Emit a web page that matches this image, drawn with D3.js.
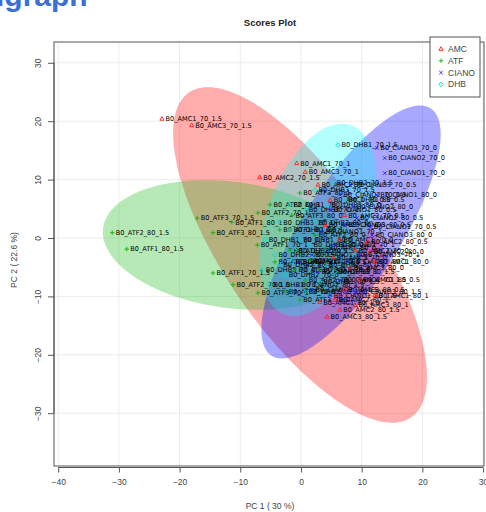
<!DOCTYPE html>
<html>
<head>
<meta charset="utf-8">
<script src="https://cdn.jsdelivr.net/npm/d3@7/dist/d3.min.js"></script>
<style>
  body { margin: 0; background: #fff; }
  svg { display: block; }
</style>
</head>
<body>
<svg id="chart" width="486" height="512"></svg>
<script>
// ---- data -------------------------------------------------------------
const groups = ["AMC", "ATF", "CIANO", "DHB"];

const amcNames = ["B0_AMC1_70_1.5","B0_AMC3_70_1.5","B0_AMC2_70_1.5","B0_AMC1_70_1","B0_AMC3_70_1","B0_AMC2_70_1",
  "B0_AMC1_70_0.5","B0_AMC2_70_0.5","B0_AMC3_70_0.5","B0_AMC1_70_0","B0_AMC2_70_0","B0_AMC3_70_0",
  "B0_AMC2_80_0.5","B0_AMC2_80_0","B0_AMC1_80_0","B0_AMC3_80_0","B0_AMC1_80_0.5","B0_AMC3_80_0.5",
  "B0_AMC1_80_1","B0_AMC2_80_1","B0_AMC3_80_1","B0_AMC1_80_1.5","B0_AMC2_80_1.5","B0_AMC3_80_1.5"];
const amcPC1 = [-22.9,-18.0,-6.8,-0.7,0.7,2.8, 4.8,7.2,4.0,6.4,8.9,5.3, 11.0,11.4,12.2,8.1,9.7,7.2, 12.2,5.6,8.9,3.1,6.4,4.3];
const amcPC2 = [20.4,19.3,10.4,12.8,11.3,9.1, 6.5,3.9,2.2,-0.3,-2.1,-3.4, -0.7,-2.4,-4.1,-5.1,-7.2,-8.9, -9.8,-10.6,-11.5,-11.0,-12.3,-13.5];

const atfNames = ["B0_ATF2_80_1.5","B0_ATF1_80_1.5","B0_ATF3_80_1.5","B0_ATF3_70_1.5","B0_ATF1_70_1.5","B0_ATF2_70_1.5",
  "B0_ATF3_70_1","B0_ATF2_70_1","B0_ATF1_70_1","B0_ATF3_80_1","B0_ATF1_80_1","B0_ATF2_80_1",
  "B0_ATF1_80_0.5","B0_ATF2_80_0.5","B0_ATF3_80_0.5","B0_ATF1_70_0.5","B0_ATF2_70_0.5","B0_ATF3_70_0.5",
  "B0_ATF1_70_0","B0_ATF2_70_0","B0_ATF3_70_0","B0_ATF1_80_0","B0_ATF2_80_0","B0_ATF3_80_0"];
const atfPC1 = [-31.1,-28.7,-14.5,-17.1,-14.5,-11.2, -7.1,-7.1,-7.2,-0.2,-11.4,-5.1, -3.5,-1.8,-4.3,-1.0,0.7,-2.6, 1.5,3.1,-0.2,4.0,2.3,-1.5];
const atfPC2 = [0.9,-1.9,0.9,3.4,-6.0,-8.0, -9.4,4.3,-1.2,7.7,2.7,5.7, 1.4,-2.1,-4.1,-5.5,-7.2,-9.2, -3.8,-5.5,-10.6,-1.7,0.5,3.9];

const cianoNames = ["B0_CIANO3_70_0","B0_CIANO2_70_0","B0_CIANO1_70_0","B0_CIANO1_80_0","B0_CIANO2_80_0","B0_CIANO2_80_0.5",
  "B0_CIANO1_70_0.5","B0_CIANO3_80_0","B0_CIANO2_70_0.5","B0_CIANO3_70_0.5","B0_CIANO1_80_0.5","B0_CIANO3_80_0.5",
  "B0_CIANO1_70_1","B0_CIANO2_70_1","B0_CIANO3_70_1","B0_CIANO1_80_1","B0_CIANO2_80_1","B0_CIANO3_80_1",
  "B0_CIANO1_70_1.5","B0_CIANO2_70_1.5","B0_CIANO3_70_1.5","B0_CIANO1_80_1.5","B0_CIANO2_80_1.5","B0_CIANO3_80_1.5"];
const cianoPC1 = [12.5,13.8,13.8,12.5,8.6,9.2, 11.4,11.7,6.4,8.1,4.8,7.2, 3.5,5.6,9.7,1.8,7.7,2.8, -0.2,6.4,1.8,4.8,-0.5,8.9];
const cianoPC2 = [15.4,13.7,11.1,7.4,5.3,3.4, 1.9,0.5,7.4,9.1,4.8,2.2, 1.0,-1.2,-2.9,-2.9,-4.1,-5.8, -4.1,-7.2,-8.9,-9.8,-8.0,-9.2];

const dhbNames = ["B0_DHB1_70_1.5","B0_DHB2_70_1.5","B0_DHB3_70_1.5","B0_DHB1_70_1","B0_DHB2_70_1","B0_DHB3_70_1",
  "B0_DHB1_70_0.5","B0_DHB2_70_0.5","B0_DHB3_70_0.5","B0_DHB1_70_0","B0_DHB2_70_0","B0_DHB3_70_0",
  "B0_DHB1_80_0","B0_DHB2_80_0","B0_DHB3_80_0","B0_DHB1_80_0.5","B0_DHB2_80_0.5","B0_DHB3_80_0.5",
  "B0_DHB1_80_1","B0_DHB2_80_1","B0_DHB3_80_1","B0_DHB1_80_1.5","B0_DHB2_80_1.5","B0_DHB3_80_1.5"];
const dhbPC1 = [6.1,5.3,2.3,-1.8,0.7,-3.5, -5.9,-4.3,-6.4,-5.1,-2.6,-1.5, -0.2,2.3,4.4,7.2,4.0,1.5, -1.8,-3.5,0.7,3.1,-1.0,5.6];
const dhbPC2 = [15.9,9.4,8.2,5.7,4.8,2.7, -0.3,-2.9,-5.5,-8.0,-6.3,-4.1, -0.3,2.7,5.7,6.5,-4.6,-1.2, 1.4,-4.6,-9.2,-7.5,-2.1,-5.8];

// 95% confidence ellipses per group (centre, semi-axes, rotation in degrees)
const ellipseCx    = [-0.16, -11.4, 8.24, 2.8];
const ellipseCy    = [-2.9, -1.2, 1.03, 3.08];
const ellipseMajor = [33.3, 21.4, 24.9, 17.1];
const ellipseMinor = [12.4, 10.8, 8.2, 8.5];
const ellipseAngle = [-57, -8, 58.5, 72];

const xTicks = [-40, -30, -20, -10, 0, 10, 20, 30];
const yTicks = [-30, -20, -10, 0, 10, 20, 30];
const pc1Variance = 30;
const pc2Variance = 22.6;

// ---- styling ------------------------------------------------------------
const lineColors = ["#FF2020", "#10B010", "#2020FF", "#00D8D8"];
const fillColors = ["#FF0000", "#22BB22", "#0000FF", "#00FFFF"];
const fillAlpha = [0.32, 0.33, 0.34, 0.3];

const svg = d3.select("#chart");
const plot = { left: 54, right: 484, top: 42, bottom: 466 };

const x = d3.scaleLinear().domain([-40.69, 30.15]).range([plot.left, plot.right]);
const y = d3.scaleLinear().domain([-39.04, 33.56]).range([plot.bottom, plot.top]);

// page heading (runs off the top of the page)
svg.append("text")
  .attr("x", -4).attr("y", 6)
  .attr("font-family", "Liberation Sans, Arial, sans-serif")
  .attr("font-size", 30).attr("font-weight", "bold")
  .attr("fill", "#3a6fd8")
  .text("igraph");

// title
svg.append("text")
  .attr("x", 270).attr("y", 26)
  .attr("text-anchor", "middle")
  .attr("font-family", "Liberation Sans, Arial, sans-serif")
  .attr("font-size", 9.5).attr("font-weight", "bold")
  .attr("fill", "#222")
  .text("Scores Plot");

svg.append("clipPath").attr("id", "plotClip")
  .append("rect")
  .attr("x", plot.left).attr("y", plot.top)
  .attr("width", plot.right - plot.left).attr("height", plot.bottom - plot.top);

// grid
const grid = svg.append("g").attr("stroke", "#ececec").attr("stroke-width", 1);
grid.selectAll(".gx").data(xTicks).join("line")
  .attr("x1", d => x(d)).attr("x2", d => x(d))
  .attr("y1", plot.top).attr("y2", plot.bottom);
grid.selectAll(".gy").data(yTicks).join("line")
  .attr("y1", d => y(d)).attr("y2", d => y(d))
  .attr("x1", plot.left).attr("x2", plot.right);

// ellipses
const ellipseLayer = svg.append("g").attr("clip-path", "url(#plotClip)");
const line = d3.line().x(p => x(p[0])).y(p => y(p[1])).curve(d3.curveLinearClosed);
groups.forEach((g, i) => {
  const th = ellipseAngle[i] * Math.PI / 180;
  const pts = d3.range(0, 180).map(k => {
    const t = k / 180 * 2 * Math.PI;
    const ex = ellipseMajor[i] * Math.cos(t), ey = ellipseMinor[i] * Math.sin(t);
    return [ellipseCx[i] + ex * Math.cos(th) - ey * Math.sin(th),
            ellipseCy[i] + ex * Math.sin(th) + ey * Math.cos(th)];
  });
  ellipseLayer.append("path")
    .attr("d", line(pts))
    .attr("fill", fillColors[i])
    .attr("fill-opacity", fillAlpha[i])
    .attr("stroke", "none");
});

// samples
const samples = [];
[[amcNames, amcPC1, amcPC2], [atfNames, atfPC1, atfPC2],
 [cianoNames, cianoPC1, cianoPC2], [dhbNames, dhbPC1, dhbPC2]].forEach((arr, gi) => {
  arr[0].forEach((n, k) => samples.push({ name: n, g: gi, pc1: arr[1][k], pc2: arr[2][k] }));
});

const symbolPath = (gi, s) => {
  if (gi === 0) return `M0,${-s}L${s * 0.9},${s * 0.6}L${-s * 0.9},${s * 0.6}Z`;
  if (gi === 1) return `M${-s},0H${s}M0,${-s}V${s}`;
  if (gi === 2) return `M${-s * 0.75},${-s * 0.75}L${s * 0.75},${s * 0.75}M${-s * 0.75},${s * 0.75}L${s * 0.75},${-s * 0.75}`;
  return `M0,${-s}L${s},0L0,${s}L${-s},0Z`;
};

const labelLayer = svg.append("g")
  .attr("font-family", "DejaVu Sans, sans-serif")
  .attr("font-size", 6.6)
  .attr("fill", "#000");
labelLayer.selectAll("text").data(samples).join("text")
  .attr("x", d => x(d.pc1) + 3.5)
  .attr("y", d => y(d.pc2))
  .attr("dy", "0.35em")
  .text(d => d.name);

svg.append("g").selectAll("path").data(samples).join("path")
  .attr("transform", d => `translate(${x(d.pc1)},${y(d.pc2)})`)
  .attr("d", d => symbolPath(d.g, 2.3))
  .attr("fill", "none")
  .attr("stroke", d => lineColors[d.g])
  .attr("stroke-width", 0.9);

// frame
svg.append("rect")
  .attr("x", plot.left).attr("y", plot.top)
  .attr("width", plot.right - plot.left).attr("height", plot.bottom - plot.top)
  .attr("fill", "none").attr("stroke", "#555").attr("stroke-width", 1);

// axes
const axisFont = "Liberation Sans, Arial, sans-serif";
const xAxis = svg.append("g")
  .attr("transform", `translate(0,${plot.bottom + 1.5})`)
  .call(d3.axisBottom(x).tickValues(xTicks).tickSize(5).tickPadding(6).tickFormat(d3.format("d")));
const yAxis = svg.append("g")
  .attr("transform", `translate(${plot.left},0)`)
  .call(d3.axisLeft(y).tickValues(yTicks).tickSize(6).tickPadding(4).tickFormat(d3.format("d")));
[xAxis, yAxis].forEach(a => {
  a.select(".domain").attr("stroke", "#555");
  a.selectAll(".tick line").attr("stroke", "#555");
  a.selectAll(".tick text").attr("font-family", axisFont).attr("font-size", 8.5).attr("fill", "#444");
});
xAxis.select(".domain").attr("d", `M${x(-40)},0H${x(30)}`);
yAxis.select(".domain").attr("d", `M0,${y(30)}V${y(-30)}`);
yAxis.selectAll(".tick text")
  .attr("transform", "rotate(-90)")
  .attr("x", 0).attr("y", -13)
  .attr("dy", "0")
  .attr("text-anchor", "middle");

svg.append("text")
  .attr("x", 270).attr("y", 509)
  .attr("text-anchor", "middle")
  .attr("font-family", axisFont).attr("font-size", 8.5).attr("fill", "#444")
  .text(`PC 1 ( ${pc1Variance} %)`);
svg.append("text")
  .attr("transform", `translate(17,${(plot.top + plot.bottom) / 2 + 6}) rotate(-90)`)
  .attr("text-anchor", "middle")
  .attr("font-family", axisFont).attr("font-size", 8.5).attr("fill", "#444")
  .text(`PC 2 ( ${pc2Variance} %)`);

// legend
const lg = svg.append("g");
lg.append("rect")
  .attr("x", 430).attr("y", 37).attr("width", 50).attr("height", 60)
  .attr("fill", "#fff").attr("stroke", "#555").attr("stroke-width", 1);
groups.forEach((g, i) => {
  const ly = 49 + i * 11.8;
  lg.append("path")
    .attr("transform", `translate(441,${ly})`)
    .attr("d", symbolPath(i, 2.3))
    .attr("fill", "none").attr("stroke", lineColors[i]).attr("stroke-width", 0.9);
  lg.append("text")
    .attr("x", 448).attr("y", ly).attr("dy", "0.35em")
    .attr("font-family", axisFont).attr("font-size", 8.5).attr("fill", "#444")
    .text(g);
});
</script>
</body>
</html>
